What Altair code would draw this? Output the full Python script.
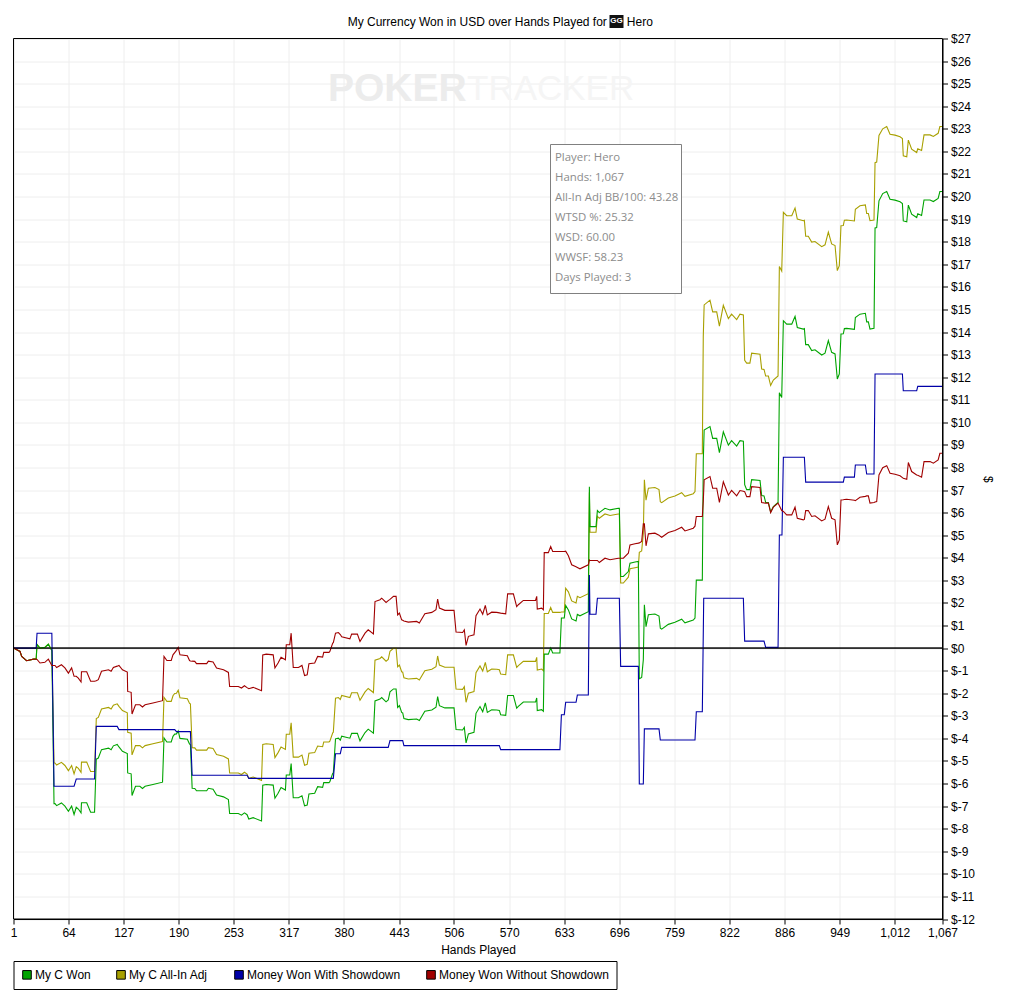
import altair as alt
import pandas as pd

series_names = ["My C Won", "My C All-In Adj", "Money Won With Showdown", "Money Won Without Showdown"]
series_colors = ["#00A400", "#A8A000", "#0000A8", "#A00000"]

rows = [
(1,0,0,0),(8.5,-.15,-.15,-.15),(10.4,-.37,-.37,-.37),(16,-.56,-.56,-.56),(24,-.49,-.49,-.49),(27,-.49,-.49,-.49),
(28,-.5,.16,.16),(31.4,-.66,0,0),(37,-.63,.03,.03),(41,-.49,.17,.17),(45,-.77,-.11,-.11),(47.5,-.77,-6.89,-5.09),
(48.6,-.77,-6.89,-5.09),(50.5,-.86,-6.98,-5.18),(56,-.74,-6.86,-5.06),(60,-.88,-7,-5.2),(64,-1.11,-7.23,-5.43),
(67.7,-.88,-7,-5.2),(70.5,-1.25,-7.37,-5.57),(73,-1.25,-7.05,-5.25),(75.4,-1.33,-7.13,-5.33),(78.5,-1.5,-7.3,-5.5),
(79,-1.05,-6.85,-5.05),(85,-1.05,-6.85,-5.05),(89.5,-1.47,-7.27,-5.47),(94,-1.47,-7.27,-5.47),(96,-1.45,-4.92,-3.12),
(98.3,-1.4,-4.87,-3.07),(102,-1.03,-4.5,-2.7),(110,-.96,-4.43,-2.63),(113,-1.03,-4.5,-2.7),(115.6,-.86,-4.33,-2.53),
(120,-.8,-4.27,-2.47),(122,-.77,-4.38,-2.58),(126,-.96,-4.57,-2.77),(131.6,-1.06,-4.67,-2.87),(132,-1.92,-5.53,-3.73),
(136,-1.96,-5.57,-3.77),(137,-2.92,-6.53,-4.73),(141,-2.51,-6.12,-4.32),(146,-2.51,-6.12,-4.32),(149,-2.61,-6.22,-4.42),
(152,-2.51,-6.12,-4.32),(161,-2.43,-6.04,-4.24),(172,-2.33,-5.94,-4.14),(173.7,-.37,-3.98,-2.18),(177,-.55,-4.16,-2.36),
(182,-.55,-4.16,-2.36),(184,-.3,-3.91,-2.11),(186,-.2,-3.81,-2.01),(188,-.1,-3.8,-2),(190,.03,-3.67,-1.87),(192,-.3,-4,-2.2),
(200.5,-.34,-4.04,-2.24),(203,-.55,-4.25,-2.45),(204,-.57,-4.27,-2.47),(206,-.58,-6.21,-4.41),(209,-.59,-6.22,-4.42),
(211,-.69,-6.32,-4.52),(222.7,-.69,-6.32,-4.52),(224.6,-.58,-6.21,-4.41),(230,-.62,-6.25,-4.45),(234,-.88,-6.51,-4.71),
(242,-.96,-6.59,-4.79),(247.6,-1.08,-6.71,-4.91),(249,-1.7,-7.33,-5.53),(259,-1.7,-7.33,-5.53),(262.6,-1.77,-7.4,-5.6),
(266,-1.67,-7.3,-5.5),(269,-1.75,-7.38,-5.58),(271,-1.8,-7.57,-5.77),(276,-1.74,-7.51,-5.71),(285.6,-1.89,-7.66,-5.86),
(287,-.3,-6.07,-4.27),(291,-.27,-6.04,-4.24),(299,-.3,-6.07,-4.27),(301,-.88,-6.65,-4.85),(304.6,-.66,-6.43,-4.63),
(308,-.41,-6.18,-4.38),(313,-.52,-6.29,-4.49),(314,.15,-5.62,-3.82),(318,.15,-5.62,-3.82),(319.6,.66,-5.11,-3.31),
(322,-.86,-6.63,-4.83),(328,-.86,-6.63,-4.83),(332,-.77,-6.54,-4.74),(335,-1.22,-6.99,-5.19),(338,-1.18,-6.95,-5.15),
(340,-.69,-6.46,-4.66),(346.6,-.66,-6.43,-4.63),(350,-.37,-6.14,-4.34),(355.7,-.4,-6.17,-4.37),(357,-.19,-5.96,-4.16),
(363,-.19,-5.96,-4.16),(364,-.15,-5.92,-4.12),(367.3,.22,-5.55,-3.75),(368,.24,-5.53,-3.73),(370.5,.66,-4.02,-2.22),
(373.8,.69,-3.99,-2.19),(376,.6,-4.08,-2.28),(377.6,.5,-3.9,-2.1),(387,.41,-3.99,-2.19),(389,.62,-3.78,-1.98),
(395.6,.62,-3.78,-1.98),(398.6,.29,-4.11,-2.31),(404.4,.66,-3.74,-1.94),(408,.81,-3.59,-1.79),(414,.63,-3.77,-1.97),
(415.8,2.06,-2.34,-.54),(421.6,2.14,-2.26,-.46),(423.5,2.21,-2.19,-.39),(428.5,2.02,-2.38,-.58),(431,2.1,-2.3,-.5),
(433,2.16,-1.94,-.14),(437,2.29,-1.81,-.01),(440,2.29,-1.81,-.01),(441.8,1.47,-2.63,-.83),(443.8,1.55,-2.55,-.75),
(446.4,1.25,-2.85,-1.05),(447.6,1.23,-2.87,-1.07),(449,1.2,-3.12,-1.32),(454,1.15,-3.17,-1.37),(463.6,1.18,-3.14,-1.34),
(466.7,1.11,-3.21,-1.41),(473,1.52,-2.8,-1),(481,1.58,-2.74,-.94),(485.8,1.7,-2.62,-.82),(487.7,2.17,-2.15,-.35),
(489.7,1.77,-2.55,-.75),(496,1.67,-2.65,-.85),(506.5,1.67,-2.65,-.85),(508.8,.71,-3.61,-1.81),(516.4,.69,-3.63,-1.83),
(518.3,.81,-3.51,-1.71),(520.3,.12,-4.2,-2.4),(523,.52,-3.8,-2),(529.4,.59,-3.73,-1.93),(531.7,1.43,-2.89,-1.09),
(536.3,1.73,-2.59,-.79),(539.4,1.5,-2.82,-1.02),(542.4,1.89,-2.43,-.63),(544.7,1.47,-2.85,-1.05),(549.7,1.59,-2.73,-.93),
(555.5,1.58,-2.74,-.94),(558.5,1.56,-2.76,-.96),(560,1.55,-2.95,-1.15),(565.8,1.52,-2.98,-1.18),(568,2.4,-2.1,-.3),
(574.6,2.4,-2.1,-.3),(578.4,1.84,-2.66,-.86),(580.3,1.92,-2.58,-.78),(586,2.11,-2.39,-.59),(600,2.11,-2.39,-.59),
(601.4,2.29,-2.21,-.41),(602,1.73,-2.77,-.97),(607,1.77,-2.73,-.93),(609,1.7,-2.8,-1),(610,4.23,-.27,1.53),
(614.7,4.23,-.27,1.53),(617.4,4.5,0,1.8),(619.7,4.28,-.22,1.58),(628,4.28,-.22,1.58),(629.7,4.28,1.33,1.6),
(633,4.28,1.33,1.6),(634.6,4.29,1.89,2.65),(637.7,4.09,1.69,2.49),(641.5,3.69,1.29,2.09),(646.5,3.6,1.2,2),
(648,3.57,1.49,2.29),(651,3.51,1.43,2.23),(660.6,3.69,1.61,2.41),(661.8,3.9,7.14,6.9),(662.5,3.88,5.38,5.13),
(669.4,3.88,5.38,5.13),(671,3.88,6.09,5.84),(673.2,3.79,6,5.75),(679.7,3.98,6.19,5.94),(685.5,3.91,6.12,5.87),
(695,3.98,6.19,5.94),(696.2,3.98,6.19,5.94),(697.7,3.98,3.17,2.88),(700.8,3.98,3.17,2.88),(706.5,4.2,3.39,3.14),
(708.4,4.57,3.76,3.51),(714.2,4.62,3.81,3.56),(718,4.65,3.84,3.59),(719.1,4.66,-1.36,4.24),(721.8,4.72,-1.3,4.3),
(723.7,5.5,-.52,5.08),(724.9,5.5,1.92,7.45),(726.8,4.53,.95,6.55),(729.5,5.06,1.48,7.08),(737,5.09,1.51,7.11),
(741.7,5,1.42,7.02),(743.2,4.95,.88,6.48),(744.8,4.91,.84,6.44),(752.4,5.12,1.05,6.65),(760,5.21,1.14,6.74),
(767.7,5.35,1.28,6.88),(771.5,5.19,1.12,6.72),(781,5.31,1.24,6.84),(783,5.4,1.33,6.93),(784.5,5.83,3.01,8.61),
(790.7,5.83,3.01,8.61),(791.4,5.83,3.01,8.61),(792.5,6.5,8.3,13.8),(793.5,7.45,9.66,15.2),(800.2,7.6,9.81,15.41),
(803.3,7.08,9.29,14.89),(807.9,7.08,9.29,14.89),(811,6.45,8.66,14.26),(815.5,7.37,9.58,15.18),(821.3,6.78,8.99,14.59),
(825,6.98,9.19,14.79),(830.8,6.74,8.95,14.55),(834.6,6.98,9.19,14.79),(838.5,6.95,9.16,14.76),(840,6.93,7.24,12.75),
(842.3,6.71,7.02,12.62),(846,6.71,7.02,12.62),(848,7.15,7.46,13.06),(857.6,7.11,7.42,13.02),(859.5,6.45,6.76,12.36),
(862.2,6.43,6.74,12.34),(864.1,6.42,6.45,12.05),(867.2,6.42,6.45,12.05),(869.8,6,6.03,11.63),(872.9,6.24,6.27,11.87),
(878.3,6.42,6.45,12.05),(879.8,6.3,11.31,16.9),(882.5,6.09,11.1,16.7),(884.4,6.05,14.5,19.3),(888.2,5.9,14.35,19.15),
(894,5.9,14.35,19.15),(897.8,6.24,14.69,19.49),(900.4,5.75,14.2,19),(907.3,5.68,14.13,18.93),(908.5,5.7,14.15,18.95),
(910,6.09,13.44,18.24),(913,6.09,13.44,18.24),(916.9,5.83,13.18,17.98),(920.7,5.86,13.21,18.01),(928.4,5.63,12.98,17.78),
(932.2,5.71,13.06,17.86),(936,6.27,13.62,18.42),(939.8,5.75,13.1,17.9),(943.7,5.68,13.03,17.83),(946.3,4.57,11.92,16.72),
(948.6,4.79,12.14,16.94),(950.5,6.56,13.91,18.71),(953.2,6.57,13.92,18.72),(954.4,6.58,14.15,18.95),(957,6.59,14.16,18.96),
(965.9,6.55,14.12,18.92),(967,6.53,14.64,19.44),(972.3,6.68,14.79,19.59),(978.5,6.72,14.83,19.63),(980,6.74,14.45,19.25),
(981.9,6.74,14.45,19.25),(983.8,6.42,14.13,18.93),(988.4,6.45,14.16,18.96),(989.6,6.47,18.61,21.5),(991.5,6.49,18.63,21.53),
(994.1,7.67,19.81,22.71),(998.4,7.99,20.13,23),(1003,8.08,20.22,23.1),(1006.8,7.74,19.88,22.76),(1012.5,7.7,19.84,22.72),
(1018.3,7.63,19.77,22.65),(1021,7.55,19.69,22.57),(1022,7.52,18.92,21.8),(1026,7.48,18.88,21.76),(1027.8,8.22,19.62,22.5),
(1031.6,7.82,19.22,22.1),(1037.4,7.67,19.07,21.95),(1038.6,7.65,19.24,22.12),(1043,7.57,19.16,22.04),(1045.8,8.26,19.85,22.73),
(1052.7,8.26,19.85,22.73),(1056.5,8.19,19.78,22.66),(1062,8.33,19.92,22.8),(1064,8.63,20.22,23.1),(1067,8.63,20.22,23.1),
]
hands = [r[0] for r in rows]
won_without = [r[1] for r in rows]
won_c = [r[2] for r in rows]
won_adj = [r[3] for r in rows]

blue_hands = [1,27,28,45,47.5,70.5,73,94,96,120,122,186,188,204,206,269,271,368,370.5,376,377.6,431,433,447.6,449,558.5,560,
              628,629.7,633,634.6,646.5,648,660.6,661.8,662.5,669.4,671,696.2,697.7,718,719.1,723.7,724.9,741.7,743.2,783,784.5,
              791.4,793,838.5,840,862.2,864.1,878.3,879.8,882.8,884.4,908.5,910,953.2,954.4,965.9,967,978.5,980,988.4,989.6,
              1021,1022,1037.4,1038.6,1067]
blue_vals = [0,0,.66,.66,-6.12,-6.12,-5.8,-5.8,-3.47,-3.47,-3.61,-3.61,-3.7,-3.7,-5.63,-5.63,-5.77,-5.77,-4.68,-4.68,-4.4,-4.4,
             -4.1,-4.1,-4.32,-4.32,-4.5,-4.5,-2.95,-2.95,-2.4,-2.4,-2.08,-2.08,3.24,1.5,1.5,2.21,2.21,-.81,-.81,-6.02,-6.02,
             -3.58,-3.58,-4.07,-4.07,-2.82,-2.82,2.21,2.21,.31,.31,.03,.03,5.01,5.01,8.45,8.45,7.35,7.35,7.57,7.57,8.11,8.11,
             7.71,7.71,12.14,12.14,11.4,11.4,11.59,11.59]

x_tick_values = [1,64.2,127.4,190.4,253.4,317,380.2,443.4,506.4,569.8,633,696.2,759.4,822.4,885.8,949,1012.2,1067]
y_tick_values = list(range(-12, 28))
tooltip_lines = ["Player: Hero","Hands: 1,067","All-In Adj BB/100: 43.28","WTSD %: 25.32","WSD: 60.00","WWSF: 58.23","Days Played: 3"]

FONT = "Liberation Sans"
xs = alt.Scale(domain=[1,1067], nice=False, zero=False)
ys = alt.Scale(domain=[-12,27], nice=False, zero=False)
one = pd.DataFrame({"a":[1]})

x_axis = alt.Axis(values=x_tick_values, format=",.0f", grid=True, gridColor="#eeeeee", tickColor="black", domainColor="black",
                  labelColor="black", labelFont=FONT, labelFontSize=12, labelAngle=0, labelFlush=False, labelOverlap=False,
                  tickSize=5, title="Hands Played", titleFont=FONT, titleFontSize=12, titleFontWeight="normal", titleColor="black",
                  titlePadding=6, labelPadding=3)
y_axis = alt.Axis(orient="right", values=y_tick_values, labelExpr="'$' + datum.value", grid=True, gridColor="#eeeeee",
                  tickColor="black", domainColor="black", labelColor="black", labelFont=FONT, labelFontSize=12, labelOverlap=False,
                  labelFlush=False, labelBound=False, tickSize=5, labelPadding=3, title="$", titleFont=FONT, titleFontSize=12,
                  titleFontWeight="normal", titleColor="black", titlePadding=6)
ex = alt.X("h:Q", scale=xs, axis=x_axis, title="Hands Played")
ey = alt.Y("v:Q", scale=ys, axis=y_axis, title="$")

zero = alt.Chart(pd.DataFrame({"h":[1,1067],"v":[0,0]})).mark_line(color="black", strokeWidth=1).encode(x=ex, y=ey)

def line(h, v, color):
    return alt.Chart(pd.DataFrame({"h":h,"v":v})).mark_line(color=color, strokeWidth=1.1, clip=True).encode(
        x=ex, y=ey, order="i:Q").transform_window(i="row_number()")

l_green = line(hands, won_c, series_colors[0])
l_olive = line(hands, won_adj, series_colors[1])
l_blue = line(blue_hands, blue_vals, series_colors[2])
l_red = line(hands, won_without, series_colors[3])

legend_df = pd.DataFrame({"series":series_names, "h":[None]*4, "v":[None]*4})
legend_layer = alt.Chart(legend_df).mark_square(stroke="black", strokeWidth=1, opacity=1).encode(
    x=ex, y=ey,
    fill=alt.Fill("series:N", scale=alt.Scale(domain=series_names, range=series_colors),
                  legend=alt.Legend(orient="none", legendX=0, legendY=922.5, direction="horizontal", columns=4, title=None,
                                    strokeColor="black", fillColor="white", padding=7.5, columnPadding=23, symbolSize=74,
                                    symbolType="square", symbolStrokeColor="black", symbolStrokeWidth=1, symbolOpacity=1,
                                    labelFont=FONT, labelFontSize=12, labelColor="black", labelOffset=2, labelLimit=300)))

def txt(s, x, y, color="black", size=12, weight="normal", align="left", font=FONT):
    return alt.Chart(one).mark_text(text=s, color=color, fontSize=size, fontWeight=weight, align=align, baseline="middle", font=font).encode(
        x=alt.value(x), y=alt.value(y))

def box(x0, x1, y0, y1, fill, stroke=None):
    kw = {"stroke": stroke, "strokeWidth": 1} if stroke else {}
    return alt.Chart(one).mark_rect(color=fill, **kw).encode(
        x=alt.value(x0), x2=alt.value(x1), y=alt.value(y0), y2=alt.value(y1))

# page coordinates minus plot origin (13.5, 38.5)
ox, oy = 13.5, 38.5
wm = [txt("POKER", 328-ox, 89-oy, color="#ececec", size=39, weight="bold"),
      txt("TRACKER", 467-ox, 89-oy, color="#f5f5f5", size=35)]
panel = [box(550.5-ox, 681.5-ox, 144.5-oy, 293.5-oy, "white", "#808080")]
panel += [txt(s, 555-ox, 158-oy+20*i, color="#8c8c8c", size=11.4, font="Open Sans") for i, s in enumerate(tooltip_lines)]
icon = [box(609.5-ox, 623.5-ox, 15-oy, 28-oy, "#111111"), txt("GG", 616.5-ox, 21-oy, color="white", size=8, weight="bold", align="center")]
frame = alt.Chart(one).mark_rect(fillOpacity=0, stroke="black", strokeWidth=1).encode(
    x=alt.value(0), x2=alt.value(929), y=alt.value(0), y2=alt.value(880.5))

chart = alt.layer(zero, *wm, l_olive, l_green, l_blue, l_red, zero, frame,
                  *panel, *icon, legend_layer).properties(
    width=929, height=880.5,
    title=alt.TitleParams("My Currency Won in USD over Hands Played for\u00a0\u00a0\u00a0\u00a0\u00a0\u00a0Hero", anchor="start", dx=337.5, offset=-14,
                          font=FONT, fontSize=12, fontWeight="normal", color="black"),
    padding={"left":5.5,"top":30.5,"right":58,"bottom":76},
    autosize=alt.AutoSizeParams(type="none"),
).configure(background="white")

chart.save("out.html", embed_options={"renderer": "svg", "actions": False})
